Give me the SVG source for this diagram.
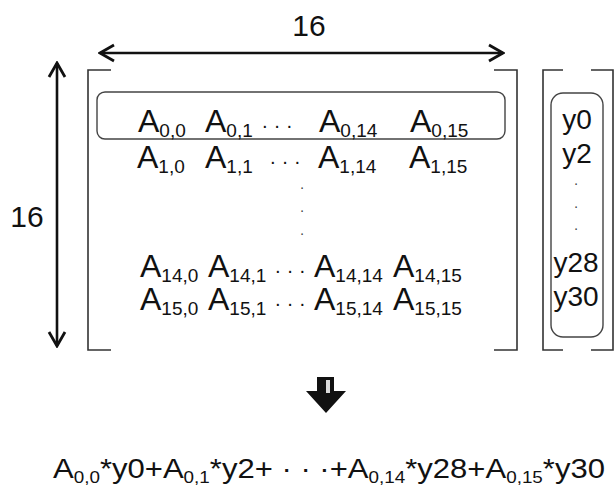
<svg xmlns="http://www.w3.org/2000/svg" width="616" height="493" viewBox="0 0 616 493">
<style>
text{font-family:"Liberation Sans",Arial,sans-serif;fill:#111}
.cell{font-size:32px}
.sub{font-size:19px}
.vec{font-size:28px}
.dim{font-size:30px}
.dots{font-size:20px}
.vd{font-size:14px;fill:#444}
.brk{fill:none;stroke:#333;stroke-width:1.6}
.box{fill:none;stroke:#444;stroke-width:1.4}
.dimline{fill:none;stroke:#111;stroke-width:2.6;marker-start:url(#oa);marker-end:url(#oa)}
</style>
<defs>
<marker id="oa" viewBox="-17 -10 19 20" markerUnits="userSpaceOnUse" markerWidth="19" markerHeight="20" refX="0" refY="0" orient="auto-start-reverse">
<path d="M-14,-8 L0,0 L-14,8" fill="none" stroke="#111" stroke-width="2.8" stroke-linejoin="miter"/>
</marker>
</defs>
<rect width="616" height="493" fill="#fff"/>

<g id="connectors">
<line class="dimline" x1="100" y1="53" x2="503" y2="53"/>
<line class="dimline" x1="57" y1="63" x2="57" y2="346"/>
<g id="down-arrow">
<polygon points="317,377 334,377 334,391 346,391 326,413 306,391 317,391" fill="#111"/>
<rect x="326" y="380" width="4" height="13" fill="#fff" opacity="0.85"/>
</g>
</g>

<g id="dim-width"><text class="dim" x="309" y="36" text-anchor="middle">16</text></g>
<g id="dim-height"><text class="dim" x="27" y="227" text-anchor="middle">16</text></g>

<g id="matrix">
<path class="brk" d="M111,70 H88 V350 H111"/>
<path class="brk" d="M494,70 H517 V350 H494"/>
<rect id="row0-box" class="box" x="97" y="92" width="408" height="47" rx="8"/>
<g id="row0">
<text class="cell" x="138" y="132">A<tspan class="sub" dy="5">0,0</tspan></text>
<text class="cell" x="205" y="132">A<tspan class="sub" dy="5">0,1</tspan></text>
<text class="dots" x="277" y="132" text-anchor="middle">· · ·</text>
<text class="cell" x="319" y="132">A<tspan class="sub" dy="5">0,14</tspan></text>
<text class="cell" x="410" y="132">A<tspan class="sub" dy="5">0,15</tspan></text>
</g>
<g id="row1">
<text class="cell" x="137" y="168">A<tspan class="sub" dy="5">1,0</tspan></text>
<text class="cell" x="205" y="168">A<tspan class="sub" dy="5">1,1</tspan></text>
<text class="dots" x="285" y="168" text-anchor="middle">· · ·</text>
<text class="cell" x="318" y="168">A<tspan class="sub" dy="5">1,14</tspan></text>
<text class="cell" x="409" y="168">A<tspan class="sub" dy="5">1,15</tspan></text>
</g>
<g id="vdots">
<text class="vd" x="302" y="192" text-anchor="middle">·</text>
<text class="vd" x="302" y="215" text-anchor="middle">·</text>
<text class="vd" x="302" y="238" text-anchor="middle">·</text>
</g>
<g id="row14">
<text class="cell" x="140" y="277">A<tspan class="sub" dy="5">14,0</tspan></text>
<text class="cell" x="208" y="277">A<tspan class="sub" dy="5">14,1</tspan></text>
<text class="dots" x="290" y="277" text-anchor="middle">· · ·</text>
<text class="cell" x="314" y="277">A<tspan class="sub" dy="5">14,14</tspan></text>
<text class="cell" x="393" y="277">A<tspan class="sub" dy="5">14,15</tspan></text>
</g>
<g id="row15">
<text class="cell" x="140" y="310">A<tspan class="sub" dy="5">15,0</tspan></text>
<text class="cell" x="208" y="310">A<tspan class="sub" dy="5">15,1</tspan></text>
<text class="dots" x="290" y="310" text-anchor="middle">· · ·</text>
<text class="cell" x="314" y="310">A<tspan class="sub" dy="5">15,14</tspan></text>
<text class="cell" x="393" y="310">A<tspan class="sub" dy="5">15,15</tspan></text>
</g>
</g>

<g id="vector">
<path class="brk" d="M563,70 H543 V350 H563"/>
<path class="brk" d="M591,70 H613 V350 H591"/>
<rect id="vec-box" class="box" x="551" y="93" width="52" height="244" rx="12"/>
<text class="vec" x="577" y="129" text-anchor="middle">y0</text>
<text class="vec" x="577" y="163" text-anchor="middle">y2</text>
<text class="vd" x="576" y="188" text-anchor="middle">·</text>
<text class="vd" x="576" y="211" text-anchor="middle">·</text>
<text class="vd" x="576" y="233" text-anchor="middle">·</text>
<text class="vec" x="576" y="272" text-anchor="middle">y28</text>
<text class="vec" x="576" y="306" text-anchor="middle">y30</text>
</g>

<g id="equation">
<text class="vec" x="53" y="478" textLength="552" lengthAdjust="spacingAndGlyphs">A<tspan font-size="17px" dy="5">0,0</tspan><tspan dy="-5">*y0+A</tspan><tspan font-size="17px" dy="5">0,1</tspan><tspan dy="-5">*y2+ · · ·+A</tspan><tspan font-size="17px" dy="5">0,14</tspan><tspan dy="-5">*y28+A</tspan><tspan font-size="17px" dy="5">0,15</tspan><tspan dy="-5">*y30</tspan></text>
</g>
</svg>
